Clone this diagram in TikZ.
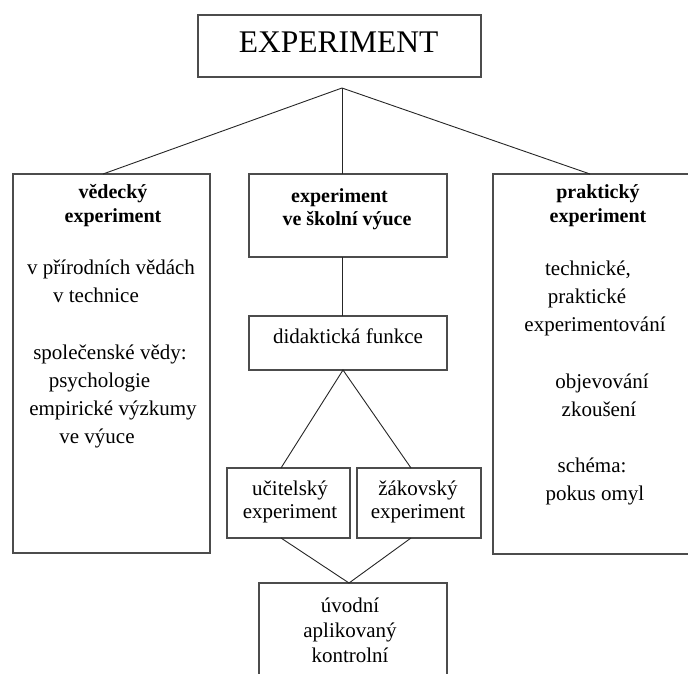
\documentclass[tikz,border=0pt]{standalone}
\usepackage{fontspec}
\setmainfont{Liberation Serif}
\newcommand\mlines[1]{\begin{tabular}[t]{@{}c@{}}#1\end{tabular}}
\tikzset{
  box/.style={draw=black!70, line width=1.3pt, rectangle, inner sep=0pt, outer sep=0pt},
  conn/.style={draw=black!85, line width=0.9pt},
  body/.style={anchor=base, inner sep=0pt, font=\fontsize{21}{28}\selectfont},
  head/.style={anchor=base, inner sep=0pt, font=\bfseries\fontsize{20}{24}\selectfont},
  headm/.style={anchor=base, inner sep=0pt, font=\bfseries\fontsize{20}{23}\selectfont},
  small/.style={anchor=base, inner sep=0pt, font=\fontsize{21}{23}\selectfont},
  smallb/.style={anchor=base, inner sep=0pt, font=\fontsize{21}{25}\selectfont},
}
\begin{document}
\begin{tikzpicture}[x=1pt,y=-1pt]
\useasboundingbox (0,0) rectangle (688,673);
\clip (0,0) rectangle (688,673);
% boxes
\node[box, minimum width=283pt, minimum height=62pt] (top) at (339.5,46) {};
\node[box, minimum width=197pt, minimum height=379pt] (left) at (111.5,363.5) {};
\node[box, minimum width=198pt, minimum height=83pt] (mid) at (348,215.5) {};
\node[box, minimum width=198pt, minimum height=54pt] (did) at (348,343) {};
\node[box, minimum width=247pt, minimum height=380pt] (right) at (616.5,364) {};
\node[box, minimum width=123pt, minimum height=70pt] (uc) at (288.5,503) {};
\node[box, minimum width=124pt, minimum height=70pt] (za) at (419,503) {};
\node[box, minimum width=188pt, minimum height=157pt] (bot) at (353,661.5) {};
% connectors
\coordinate (apex) at (342,88);
\draw[conn] ([xshift=-8.5pt]left.north) -- (apex) -- ([xshift=97pt]right.north west);
\draw[conn] (apex) -- (apex |- mid.north);
\draw[conn] (mid.south -| apex) -- (did.north -| apex);
\draw[conn] ([xshift=-7.5pt]uc.north) -- ([xshift=-5pt]did.south) -- ([xshift=-8pt]za.north);
\draw[conn] ([xshift=-7.5pt]uc.south) -- ([xshift=-4pt]bot.north) -- ([xshift=-8pt]za.south);
% texts
\node[anchor=base, inner sep=0pt, font=\fontsize{31.5}{36}\selectfont] (ttl) at (338.6,52) {EXPERIMENT};
\node[head] (lh) at (113,198) {\mlines{vědecký\\experiment}};
\node[body] (lb1) at (111,274) {\mlines{v přírodních vědách\\v technice\hspace*{30pt}}};
\node[body] (lb2) at (113,359) {\mlines{společenské vědy:\hspace*{6pt}\\psychologie\hspace*{27pt}\\empirické výzkumy\\ve výuce\hspace*{32pt}}};
\node[head] (rh) at (598,198) {\mlines{praktický\\experiment}};
\node[body] (rb1) at (595,275) {\mlines{technické,\hspace*{14pt}\\praktické\hspace*{16pt}\\experimentování}};
\node[body] (rb2) at (602,388) {\mlines{objevování\\zkoušení\hspace*{6pt}}};
\node[body] (rb3) at (595,472) {\mlines{schéma:\hspace*{6pt}\\pokus omyl}};
\node[headm] (mh) at (347,202) {\mlines{experiment\hspace*{15pt}\\ve školní výuce}};
\node[body] (dt) at (348,343) {didaktická funkce};
\node[small] (ut) at (290,495) {\mlines{učitelský\\experiment}};
\node[small] (zt) at (418,495) {\mlines{žákovský\\experiment}};
\node[smallb] (bt) at (350,612) {\mlines{úvodní\\aplikovaný\\kontrolní}};
\end{tikzpicture}
\end{document}
